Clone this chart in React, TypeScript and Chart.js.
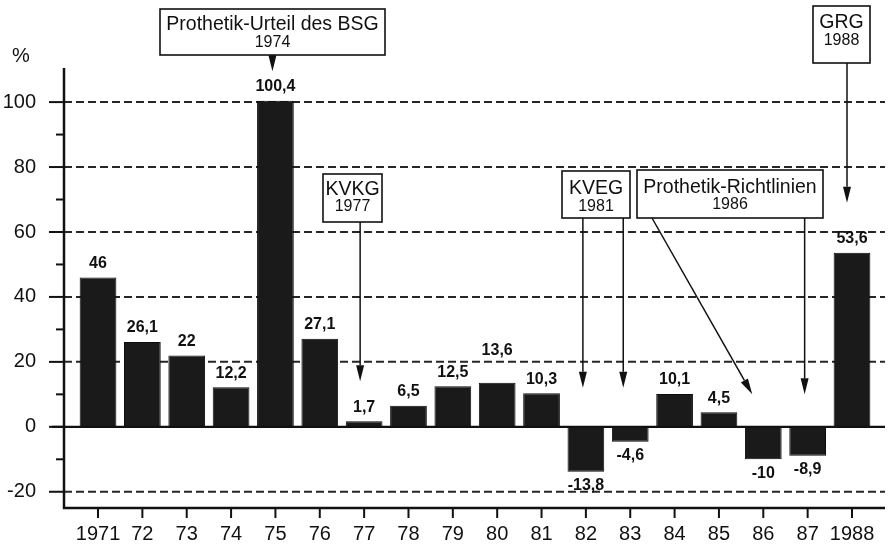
import { useEffect, useRef } from 'react';
import { Chart, registerables } from 'chart.js';

Chart.register(...registerables);

// ---- data ----
const years = [1971, 1972, 1973, 1974, 1975, 1976, 1977, 1978, 1979, 1980, 1981, 1982, 1983, 1984, 1985, 1986, 1987, 1988];
const yearLabels = ['1971', '72', '73', '74', '75', '76', '77', '78', '79', '80', '81', '82', '83', '84', '85', '86', '87', '1988'];
const changePct = [46, 26.1, 22, 12.2, 100.4, 27.1, 1.7, 6.5, 12.5, 13.6, 10.3, -13.8, -4.6, 10.1, 4.5, -10, -8.9, 53.6];
const majorTicks = [-20, 0, 20, 40, 60, 80, 100];
const minorTicks = [-10, 10, 30, 50, 70, 90];
const eventTitles = ['Prothetik-Urteil des BSG', 'KVKG', 'KVEG', 'Prothetik-Richtlinien', 'GRG'];
const eventYears = ['1974', '1977', '1981', '1986', '1988'];
const raisedLabelYears = [1980];

// ---- layout (pixels / arrow targets in data space) ----
const FONT = '"Liberation Sans", Arial, Helvetica, sans-serif';
type Arrow = { year: number; value: number; dx: number; sx?: number };
const calloutLayout: { box: [number, number, number, number]; t1: number; t2: number; arrows: Arrow[] }[] = [
  { box: [160, 9, 385, 55], t1: 16, t2: 34, arrows: [{ year: 1975, value: 109.5, dx: -3 }] },
  { box: [323, 174, 382, 222], t1: 16, t2: 33, arrows: [{ year: 1977, value: 14, dx: -4 }] },
  { box: [562, 171, 630, 218], t1: 18, t2: 36, arrows: [{ year: 1982, value: 12, dx: -3 }, { year: 1983, value: 12, dx: -7 }] },
  { box: [637, 170, 823, 218], t1: 18, t2: 35, arrows: [{ year: 1986, value: 10, dx: -11, sx: 652 }, { year: 1987, value: 10, dx: -3 }] },
  { box: [813, 6, 870, 63], t1: 17, t2: 35, arrows: [{ year: 1988, value: 69, dx: -5 }] },
];

function fmt(v: number) {
  return String(v).replace('.', ',');
}

function drawArrow(ctx: CanvasRenderingContext2D, x1: number, y1: number, x2: number, y2: number) {
  const ang = Math.atan2(y2 - y1, x2 - x1);
  const len = 16;
  const hw = 4;
  const bx = x2 - len * Math.cos(ang);
  const by = y2 - len * Math.sin(ang);
  ctx.beginPath();
  ctx.moveTo(x1, y1);
  ctx.lineTo(bx, by);
  ctx.stroke();
  ctx.beginPath();
  ctx.moveTo(x2, y2);
  ctx.lineTo(bx + hw * Math.sin(ang), by - hw * Math.cos(ang));
  ctx.lineTo(bx - hw * Math.sin(ang), by + hw * Math.cos(ang));
  ctx.closePath();
  ctx.fill();
}

const decorPlugin = {
  id: 'decor',
  beforeDatasetsDraw(chart: any) {
    const { ctx, chartArea } = chart;
    const y = chart.scales.y;
    ctx.save();
    ctx.strokeStyle = '#262626';
    ctx.lineWidth = 2;
    ctx.setLineDash([8, 4]);
    for (const v of majorTicks) {
      if (v === 0) continue;
      const py = y.getPixelForValue(v);
      ctx.beginPath();
      ctx.moveTo(chartArea.left, py);
      ctx.lineTo(chartArea.right, py);
      ctx.stroke();
    }
    ctx.restore();
  },
  afterDatasetsDraw(chart: any) {
    const { ctx, chartArea } = chart;
    const x = chart.scales.x;
    const y = chart.scales.y;
    ctx.save();
    ctx.strokeStyle = '#111';
    ctx.fillStyle = '#111';
    ctx.setLineDash([]);

    // zero line
    ctx.lineWidth = 2.2;
    const y0 = y.getPixelForValue(0);
    ctx.beginPath();
    ctx.moveTo(chartArea.left - 12, y0);
    ctx.lineTo(chartArea.right, y0);
    ctx.stroke();

    // y ticks
    ctx.lineWidth = 2;
    for (const v of majorTicks) {
      const py = y.getPixelForValue(v);
      ctx.beginPath();
      ctx.moveTo(chartArea.left - 15, py);
      ctx.lineTo(chartArea.left, py);
      ctx.stroke();
    }
    for (const v of minorTicks) {
      const py = y.getPixelForValue(v);
      ctx.beginPath();
      ctx.moveTo(chartArea.left - 8, py);
      ctx.lineTo(chartArea.left, py);
      ctx.stroke();
    }
    // x ticks
    for (const yr of years) {
      const px = x.getPixelForValue(yr);
      ctx.beginPath();
      ctx.moveTo(px, chartArea.bottom);
      ctx.lineTo(px, chartArea.bottom + 10);
      ctx.stroke();
    }
    // axes
    ctx.lineWidth = 2.5;
    ctx.beginPath();
    ctx.moveTo(chartArea.left, chartArea.top);
    ctx.lineTo(chartArea.left, chartArea.bottom);
    ctx.lineTo(chartArea.right, chartArea.bottom);
    ctx.stroke();

    // % unit
    ctx.font = `20px ${FONT}`;
    ctx.textAlign = 'left';
    ctx.textBaseline = 'middle';
    ctx.fillText('%', 12, 56);

    // value labels
    const meta = chart.getDatasetMeta(0);
    ctx.font = `bold 16px ${FONT}`;
    ctx.textAlign = 'center';
    meta.data.forEach((bar: any, i: number) => {
      const v = changePct[i];
      let ly = v >= 0 ? bar.y - 14 : bar.y + 14;
      if (raisedLabelYears.includes(years[i])) ly -= 18;
      ctx.fillText(fmt(v), bar.x, ly);
    });

    // callouts
    calloutLayout.forEach((c, i) => {
      const [bx1, by1, bx2, by2] = c.box;
      ctx.lineWidth = 1.6;
      ctx.fillStyle = '#fff';
      ctx.fillRect(bx1, by1, bx2 - bx1, by2 - by1);
      ctx.strokeRect(bx1, by1, bx2 - bx1, by2 - by1);
      ctx.fillStyle = '#111';
      const cx = (bx1 + bx2) / 2;
      ctx.font = `19.5px ${FONT}`;
      ctx.fillText(eventTitles[i], cx, by1 + c.t1);
      ctx.font = `16px ${FONT}`;
      ctx.fillText(eventYears[i], cx, by1 + c.t2);
      ctx.lineWidth = 1.5;
      for (const a of c.arrows) {
        const tx = x.getPixelForValue(a.year) + a.dx;
        const ty = y.getPixelForValue(a.value);
        const sx = a.sx ?? tx;
        drawArrow(ctx, sx, by2, tx, ty);
      }
    });
    ctx.restore();
  },
};

export default function App() {
  const canvasRef = useRef<HTMLCanvasElement | null>(null);

  useEffect(() => {
    if (!canvasRef.current) return;
    const chart = new Chart(canvasRef.current, {
      type: 'bar',
      data: {
        datasets: [
          {
            data: years.map((yr, i) => ({ x: yr, y: changePct[i] })),
            backgroundColor: '#1a1a1a',
            borderColor: '#0d0d0d',
            borderWidth: 1,
            barPercentage: 0.92,
            categoryPercentage: 0.9,
          },
        ],
      },
      options: {
        animation: false,
        responsive: false,
        maintainAspectRatio: false,
        layout: { padding: { top: 68, right: 4, left: 0, bottom: 0 } },
        plugins: { legend: { display: false }, tooltip: { enabled: false }, title: { display: false } },
        scales: {
          x: {
            type: 'linear',
            offset: false,
            min: 1970.233,
            max: 1988.744,
            grid: { display: true, drawOnChartArea: false, color: 'transparent', tickColor: 'transparent', drawTicks: true, tickLength: 14 },
            border: { display: false },
            afterFit: (s: any) => {
              s.height = 37;
            },
            ticks: {
              stepSize: 1,
              includeBounds: false,
              autoSkip: false,
              maxRotation: 0,
              padding: 0,
              color: '#111',
              font: { family: FONT, size: 20 },
              callback: (v: any) => {
                const idx = years.indexOf(Number(v));
                return idx >= 0 ? yearLabels[idx] : '';
              },
            },
          },
          y: {
            min: -25,
            max: 110.5,
            grid: { display: true, drawOnChartArea: false, color: 'transparent', tickColor: 'transparent', drawTicks: true, tickLength: 26 },
            border: { display: false },
            afterFit: (s: any) => {
              s.width = 64;
            },
            ticks: {
              stepSize: 10,
              includeBounds: false,
              autoSkip: false,
              padding: 2,
              color: '#111',
              font: { family: FONT, size: 20 },
              callback: (v: any) => (majorTicks.includes(Number(v)) ? String(v) : ''),
            },
          },
        },
      },
      plugins: [decorPlugin],
    });
    return () => chart.destroy();
  }, []);

  return (
    <div style={{ position: 'fixed', left: 0, top: 0, width: 889, height: 545, background: '#fff' }}>
      <canvas ref={canvasRef} width={889} height={545} />
    </div>
  );
}
